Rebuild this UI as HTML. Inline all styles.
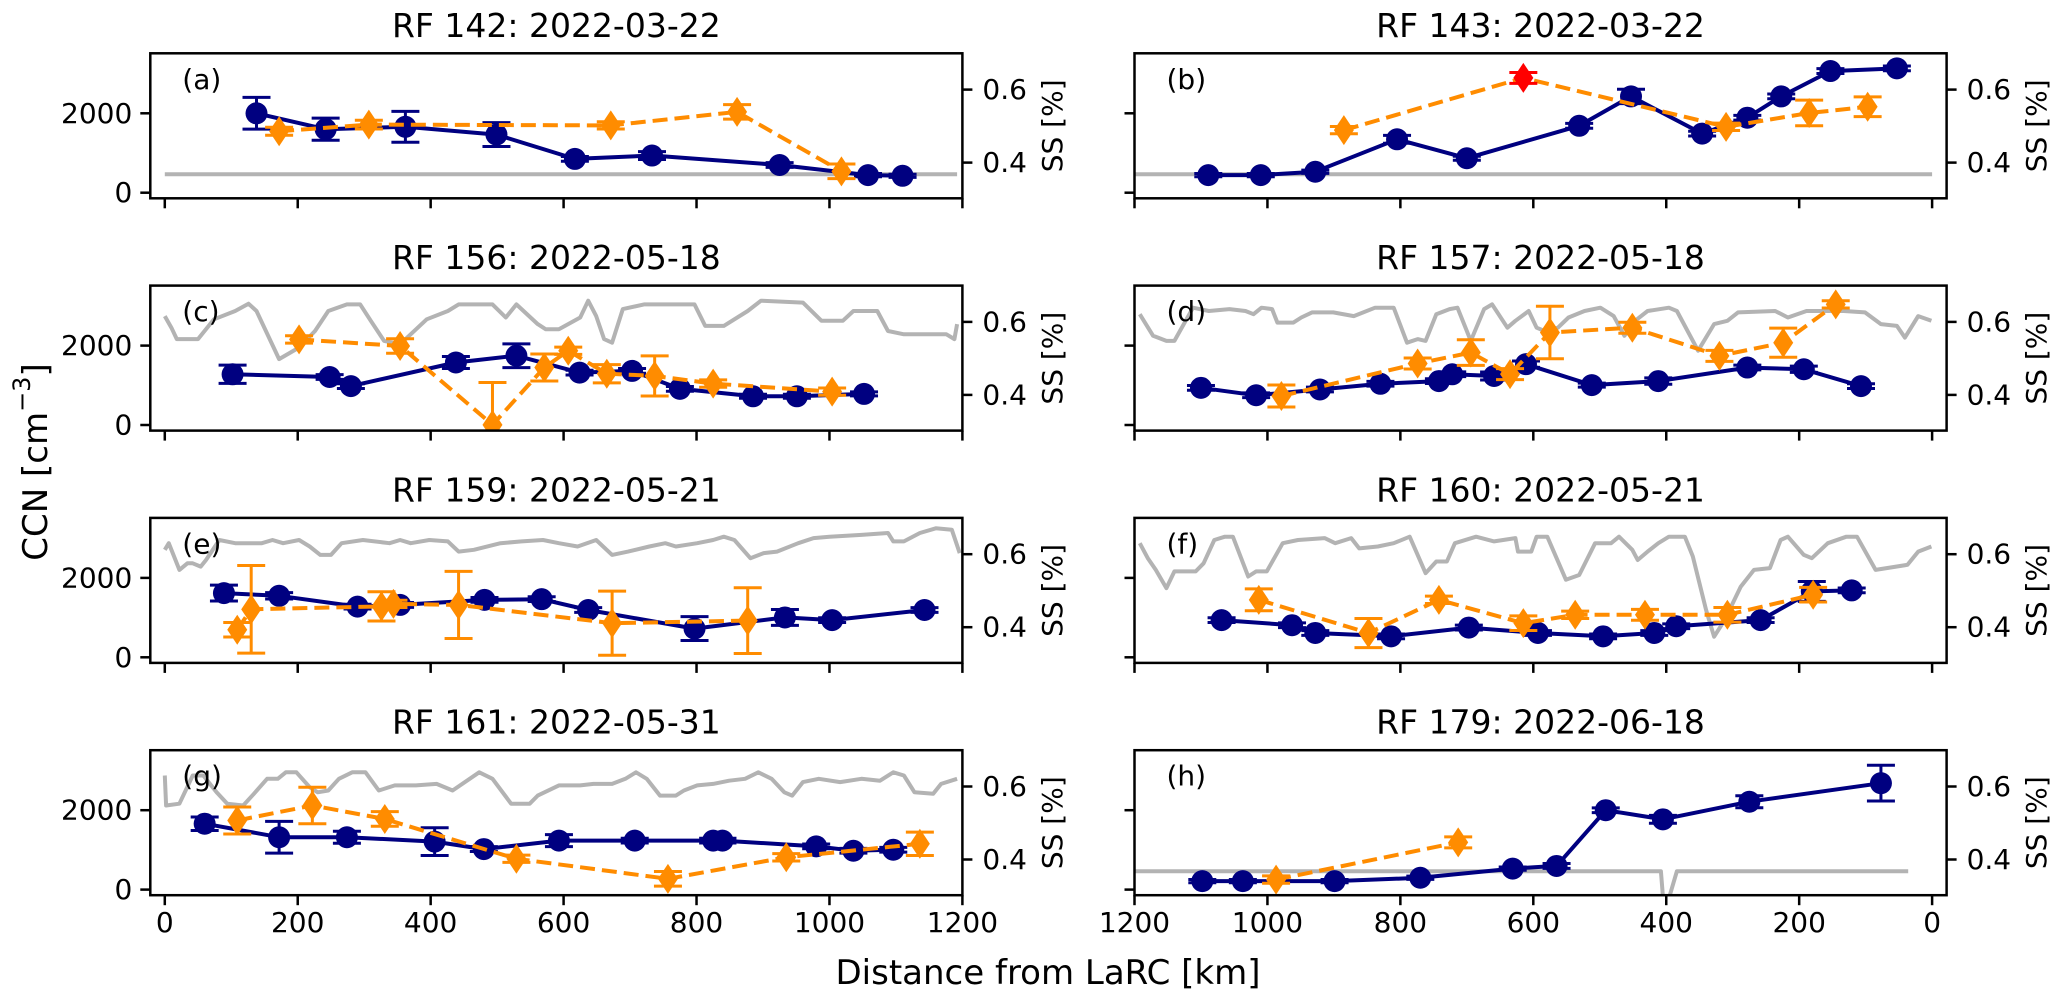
<!DOCTYPE html>
<html><head><meta charset="utf-8">
<style>
html,body{margin:0;padding:0;background:#fff;}
svg{display:block;font-family:"DejaVu Sans","Liberation Sans",sans-serif;}
</style></head>
<body>
<svg id="fig" width="2067" height="1001" viewBox="0 0 2067 1001" xmlns="http://www.w3.org/2000/svg">
<rect width="2067" height="1001" fill="#fff"/>
<text x="36" y="462" font-size="34" text-anchor="middle" dominant-baseline="central" transform="rotate(-90 36 462)">CCN [cm<tspan font-size="24" dy="-14">−3</tspan><tspan dy="14">]</tspan></text>
<text x="1048" y="973" font-size="34" text-anchor="middle" dominant-baseline="central">Distance from LaRC [km]</text>
</svg>
<script>
// ---------- Panel (a) RF 142 ----------
const blueKmA=[138,242,362,499,617,733,925,1058,1110];
const blueCcnA=[2000,1600,1660,1464,851,936,698,443,426];
const blueErrA=[400,280,390,300,60,100,60,40,40];
const orKmA=[172,307,671,861,1018];
const orSsA=[0.486,0.504,0.502,0.539,0.376];
const orErrA=[0.011,0.012,0.01,0.02,0.02];
const greyKmA=[0,1192];
const greySsA=[0.368,0.368];
// ---------- Panel (b) RF 143 ----------
const blueKmB=[1089,1010,928,805,700,531,453,346,278,227,153,53];
const blueCcnB=[443,443,528,1345,868,1685,2425,1489,1889,2425,3064,3132];
const blueErrB=[40,40,40,100,50,60,180,60,60,60,60,60];
const orKmB=[885,615,310,185,97];
const orSsB=[0.489,0.632,0.498,0.536,0.553];
const orErrB=[0.01,0.015,0.01,0.035,0.027];
const orRedB=[0,1,0,0,0];
const greyKmB=[1200,0];
const greySsB=[0.368,0.368];
// ---------- Panel (c) RF 156 ----------
const blueKmC=[102,248,280,438,529,624,703,775,885,951,1052];
const blueCcnC=[1277,1209,979,1574,1745,1319,1362,911,723,723,783];
const blueErrC=[230,60,60,150,300,60,60,60,50,50,50];
const orKmC=[202,354,493,571,607,665,737,825,1004];
const orSsC=[0.552,0.534,0.318,0.475,0.521,0.458,0.452,0.431,0.409];
const orErrC=[0.01,0.02,0.116,0.037,0.01,0.025,0.055,0.01,0.01];
const greyKmC=[0,10,18,50,74,106,126,138,172,202,226,246,274,294,310,330,354,394,426,442,469,493,513,529,561,573,593,625,637,649,661,673,689,721,769,797,813,841,877,897,960,988,1020,1036,1072,1088,1112,1176,1188,1192];
const greySsC=[0.616,0.584,0.553,0.553,0.607,0.630,0.650,0.630,0.498,0.530,0.575,0.630,0.648,0.648,0.603,0.548,0.539,0.607,0.630,0.648,0.648,0.648,0.612,0.648,0.594,0.580,0.580,0.612,0.658,0.616,0.553,0.543,0.635,0.648,0.648,0.648,0.589,0.589,0.630,0.658,0.653,0.603,0.603,0.630,0.630,0.575,0.566,0.566,0.553,0.594];
// ---------- Panel (d) RF 157 ----------
const blueKmD=[1100,1017,921,830,742,722,659,611,512,412,278,193,107];
const blueCcnD=[936,749,894,1038,1106,1277,1234,1532,1004,1106,1447,1404,979];
const blueErrD=[60,60,60,60,60,60,100,80,50,80,60,80,60];
const orKmD=[979,774,694,635,575,451,320,224,145];
const orSsD=[0.397,0.486,0.516,0.457,0.571,0.584,0.507,0.543,0.648];
const orErrD=[0.03,0.015,0.035,0.015,0.072,0.015,0.015,0.04,0.01];
const greyKmD=[1192,1172,1152,1140,1112,1088,1057,1033,1021,1009,993,985,961,949,933,901,870,838,810,790,774,762,746,726,714,694,674,662,639,627,607,595,583,563,547,523,499,479,463,444,428,396,384,352,328,308,292,236,217,189,133,101,77,53,41,21,1];
const greySsD=[0.621,0.562,0.548,0.548,0.639,0.630,0.635,0.630,0.621,0.639,0.635,0.598,0.598,0.612,0.626,0.626,0.616,0.639,0.639,0.543,0.553,0.548,0.621,0.635,0.639,0.548,0.635,0.648,0.584,0.603,0.630,0.584,0.575,0.584,0.612,0.630,0.639,0.616,0.562,0.607,0.630,0.639,0.630,0.521,0.594,0.603,0.626,0.630,0.612,0.630,0.630,0.626,0.594,0.589,0.557,0.616,0.603];
// ---------- Panel (e) RF 159 ----------
const blueKmE=[89,172,290,354,481,567,637,797,933,1004,1143];
const blueCcnE=[1617,1549,1277,1319,1447,1464,1191,723,1004,936,1191];
const blueErrE=[200,80,60,60,60,60,60,300,200,60,60];
const orKmE=[109,130,326,344,442,673,877];
const orSsE=[0.393,0.449,0.457,0.464,0.461,0.411,0.418];
const orErrE=[0.02,0.12,0.04,0.01,0.092,0.088,0.09];
const greyKmE=[0,6,22,34,42,54,62,82,106,146,162,178,202,218,234,250,266,298,338,354,370,398,426,442,465,505,537,569,593,621,649,673,697,729,753,769,801,825,841,857,881,901,921,953,976,1000,1048,1088,1096,1112,1136,1160,1184,1196];
const greySsE=[0.612,0.630,0.557,0.575,0.575,0.566,0.584,0.639,0.630,0.630,0.639,0.630,0.639,0.621,0.598,0.598,0.630,0.639,0.630,0.639,0.630,0.639,0.635,0.607,0.612,0.630,0.635,0.639,0.630,0.621,0.639,0.598,0.607,0.621,0.630,0.621,0.630,0.639,0.648,0.639,0.589,0.603,0.607,0.630,0.644,0.648,0.653,0.658,0.635,0.635,0.658,0.671,0.667,0.603];
// ---------- Panel (f) RF 160 ----------
const blueKmF=[1069,963,928,814,697,593,495,418,385,258,181,121];
const blueCcnF=[936,808,613,528,749,613,528,613,783,936,1660,1685];
const blueErrF=[60,60,60,60,60,60,60,60,60,60,250,60];
const orKmF=[1013,848,742,615,537,432,308,179];
const orSsF=[0.475,0.384,0.475,0.411,0.434,0.434,0.434,0.489];
const orErrF=[0.03,0.04,0.01,0.02,0.01,0.015,0.02,0.02];
const greyKmF=[1192,1180,1168,1152,1140,1108,1096,1080,1064,1052,1029,1017,1001,977,954,914,898,874,862,834,810,786,762,746,730,718,686,659,627,623,603,595,579,551,531,507,483,471,451,443,428,412,396,372,360,340,328,312,288,268,244,228,217,193,181,157,129,113,85,37,21,1];
const greySsF=[0.630,0.589,0.557,0.507,0.553,0.553,0.575,0.639,0.648,0.648,0.539,0.553,0.553,0.630,0.639,0.644,0.630,0.644,0.616,0.621,0.630,0.648,0.548,0.580,0.580,0.630,0.648,0.635,0.644,0.607,0.607,0.648,0.648,0.530,0.543,0.630,0.630,0.648,0.612,0.584,0.607,0.630,0.648,0.648,0.594,0.447,0.374,0.420,0.511,0.557,0.562,0.639,0.648,0.598,0.589,0.630,0.648,0.648,0.557,0.571,0.607,0.621];
// ---------- Panel (g) RF 161 ----------
const blueKmG=[60,172,274,406,480,593,707,825,839,980,1036,1096];
const blueCcnG=[1660,1319,1319,1209,1021,1234,1234,1234,1234,1089,979,1004];
const blueErrG=[170,400,150,350,60,150,60,60,60,60,60,60];
const orKmG=[109,222,331,529,757,935,1136];
const orSsG=[0.507,0.548,0.511,0.402,0.347,0.406,0.443];
const orErrG=[0.037,0.05,0.02,0.01,0.02,0.01,0.032];
const greyKmG=[0,2,22,42,58,78,94,118,134,154,170,182,198,218,230,246,262,282,302,322,346,378,409,433,473,493,521,549,561,593,625,645,673,693,709,725,745,769,781,801,825,849,873,893,913,932,944,960,984,1016,1048,1076,1096,1112,1128,1156,1168,1192];
const greySsG=[0.630,0.548,0.553,0.630,0.630,0.584,0.553,0.548,0.580,0.621,0.621,0.639,0.639,0.598,0.584,0.589,0.621,0.639,0.639,0.589,0.603,0.603,0.607,0.589,0.639,0.621,0.553,0.553,0.575,0.603,0.603,0.607,0.607,0.621,0.639,0.621,0.575,0.575,0.589,0.603,0.607,0.616,0.621,0.639,0.621,0.584,0.575,0.612,0.621,0.612,0.621,0.616,0.639,0.630,0.584,0.580,0.607,0.621];
// ---------- Panel (h) RF 179 ----------
const blueKmH=[1098,1037,899,770,631,565,491,405,275,77];
const blueCcnH=[213,213,213,298,528,596,2000,1770,2213,2681];
const blueErrH=[40,40,40,40,40,60,60,100,150,450];
const orKmH=[987,713];
const orSsH=[0.345,0.447];
const orErrH=[0.01,0.015];
const greyKmH=[1216,408,405,395,384,36];
const greySsH=[0.368,0.368,0.30,0.30,0.368,0.368];

const xTicks=[0,200,400,600,800,1000,1200];
const ccnTicks=[0,2000];
const ssTicks=[0.4,0.6];

const panels=[
 {id:'a',col:0,row:0,title:'RF 142: 2022-03-22',bk:blueKmA,bc:blueCcnA,be:blueErrA,ok:orKmA,os:orSsA,oe:orErrA,gk:greyKmA,gs:greySsA},
 {id:'b',col:1,row:0,title:'RF 143: 2022-03-22',bk:blueKmB,bc:blueCcnB,be:blueErrB,ok:orKmB,os:orSsB,oe:orErrB,gk:greyKmB,gs:greySsB,red:orRedB},
 {id:'c',col:0,row:1,title:'RF 156: 2022-05-18',bk:blueKmC,bc:blueCcnC,be:blueErrC,ok:orKmC,os:orSsC,oe:orErrC,gk:greyKmC,gs:greySsC},
 {id:'d',col:1,row:1,title:'RF 157: 2022-05-18',bk:blueKmD,bc:blueCcnD,be:blueErrD,ok:orKmD,os:orSsD,oe:orErrD,gk:greyKmD,gs:greySsD},
 {id:'e',col:0,row:2,title:'RF 159: 2022-05-21',bk:blueKmE,bc:blueCcnE,be:blueErrE,ok:orKmE,os:orSsE,oe:orErrE,gk:greyKmE,gs:greySsE},
 {id:'f',col:1,row:2,title:'RF 160: 2022-05-21',bk:blueKmF,bc:blueCcnF,be:blueErrF,ok:orKmF,os:orSsF,oe:orErrF,gk:greyKmF,gs:greySsF},
 {id:'g',col:0,row:3,title:'RF 161: 2022-05-31',bk:blueKmG,bc:blueCcnG,be:blueErrG,ok:orKmG,os:orSsG,oe:orErrG,gk:greyKmG,gs:greySsG},
 {id:'h',col:1,row:3,title:'RF 179: 2022-06-18',bk:blueKmH,bc:blueCcnH,be:blueErrH,ok:orKmH,os:orSsH,oe:orErrH,gk:greyKmH,gs:greySsH}
];

const NS='http://www.w3.org/2000/svg';
const svg=document.getElementById('fig');
const AX_W=812.1, AX_H=145, KM_SPAN=1221.8;
function axLeft(col){return col===0?150.3:1134.5;}
function axTop(row){return 53.3+row*232.3;}
function xS(col,km){return col===0? axLeft(0)+(km+21.8)*AX_W/KM_SPAN : axLeft(1)+(1200-km)*AX_W/KM_SPAN;}
function yC(row,v){return axTop(row)+139.4-v*(79.4/2000);}
function yS(row,s){return axTop(row)+36.3+(0.6-s)*365;}
function mk(tag,attrs,parent){const e=document.createElementNS(NS,tag);for(const k in attrs)e.setAttribute(k,attrs[k]);(parent||svg).appendChild(e);return e;}

panels.forEach(p=>{
 const L=axLeft(p.col),T=axTop(p.row),R=L+AX_W,B=T+AX_H;
 const g=mk('g',{});
 
 
 const cp=mk('clipPath',{id:'clip'+p.id},g);
 mk('rect',{x:L,y:T,width:AX_W,height:AX_H},cp);
 const t=mk('text',{x:(L+R)/2,y:T-28,'font-size':33,'text-anchor':'middle','dominant-baseline':'central'},g);
 
 
 t.textContent=p.title;
 const plot=mk('g',{'clip-path':'url(#clip'+p.id+')'},g);
 // grey SS trace
 let d='';
 p.gk.forEach((k,i)=>{d+=(i?'L':'M')+xS(p.col,k).toFixed(1)+','+yS(p.row,p.gs[i]).toFixed(1);});
 const gl=mk('path',{d:d,fill:'none',stroke:'#b3b3b3','stroke-width':4,'stroke-linejoin':'round'},plot);
 
 
 // blue CCN
 d='';
 p.bk.forEach((k,i)=>{d+=(i?'L':'M')+xS(p.col,k).toFixed(1)+','+yC(p.row,p.bc[i]).toFixed(1);});
 const bl=mk('path',{d:d,fill:'none',stroke:'#000080','stroke-width':4,'stroke-linejoin':'round'},plot);
 
 
 p.bk.forEach((k,i)=>{
  const x=xS(p.col,k),y=yC(p.row,p.bc[i]),y1=yC(p.row,p.bc[i]+p.be[i]),y2=yC(p.row,p.bc[i]-p.be[i]);
  const eb=mk('path',{d:`M${x},${y1}L${x},${y2}M${x-14},${y1}L${x+14},${y1}M${x-14},${y2}L${x+14},${y2}`,stroke:'#000080','stroke-width':3,fill:'none'},plot);
  
  
  const c=mk('ellipse',{cx:x,cy:y,rx:11,ry:11,fill:'#000080'},plot);
  
  
 });
 // orange SS
 d='';
 p.ok.forEach((k,i)=>{d+=(i?'L':'M')+xS(p.col,k).toFixed(1)+','+yS(p.row,p.os[i]).toFixed(1);});
 const ol=mk('path',{d:d,fill:'none',stroke:'#ff8c00','stroke-width':4,'stroke-dasharray':'15,7'},plot);
 
 
 p.ok.forEach((k,i)=>{
  const col=(p.red&&p.red[i])?'#ff0000':'#ff8c00';
  const x=xS(p.col,k),y=yS(p.row,p.os[i]),y1=yS(p.row,p.os[i]+p.oe[i]),y2=yS(p.row,p.os[i]-p.oe[i]);
  const eb=mk('path',{d:`M${x},${y1}L${x},${y2}M${x-14},${y1}L${x+14},${y1}M${x-14},${y2}L${x+14},${y2}`,stroke:col,'stroke-width':3,fill:'none'},plot);
  
  
  const dm=mk('polygon',{points:`${x},${y-15} ${x+10},${y} ${x},${y+15} ${x-10},${y}`,fill:col},plot);
  
  
 });
 // frame
 const fr=mk('rect',{x:L,y:T,width:AX_W,height:AX_H,fill:'none',stroke:'#000','stroke-width':2.5},g);
 
 
 const lb=mk('text',{x:L+32,y:T+26,'font-size':28,'dominant-baseline':'central'},g);
 
 
 lb.textContent='('+p.id+')';
 // x ticks
 xTicks.forEach(v=>{
  const x=xS(p.col,v);
  mk('line',{x1:x,y1:B,x2:x,y2:B+10,stroke:'#000','stroke-width':2.5},g);
  if(p.row===3){
   const tl=mk('text',{x:x,y:B+16,'font-size':28,'text-anchor':'middle','dominant-baseline':'hanging'},g);
   
   
   tl.textContent=v;
  }
 });
 // left CCN ticks
 ccnTicks.forEach(v=>{
  const y=yC(p.row,v);
  mk('line',{x1:L-10,y1:y,x2:L,y2:y,stroke:'#000','stroke-width':2.5},g);
  if(p.col===0){
   const tl=mk('text',{x:L-18,y:y,'font-size':28,'text-anchor':'end','dominant-baseline':'central'},g);
   
   
   tl.textContent=v;
  }
 });
 // right SS ticks
 ssTicks.forEach(v=>{
  const y=yS(p.row,v);
  mk('line',{x1:R,y1:y,x2:R+10,y2:y,stroke:'#000','stroke-width':2.5},g);
  const tl=mk('text',{x:R+20,y:y,'font-size':28,'dominant-baseline':'central'},g);
  
  
  tl.textContent=v.toFixed(1);
 });
 const sx=R+90,sy=(T+B)/2;
 const sl=mk('text',{x:sx,y:sy,'font-size':28,'text-anchor':'middle','dominant-baseline':'central',transform:`rotate(-90 ${sx} ${sy})`},g);
 
 
 sl.textContent='SS [%]';
});
</script>
</body></html>
